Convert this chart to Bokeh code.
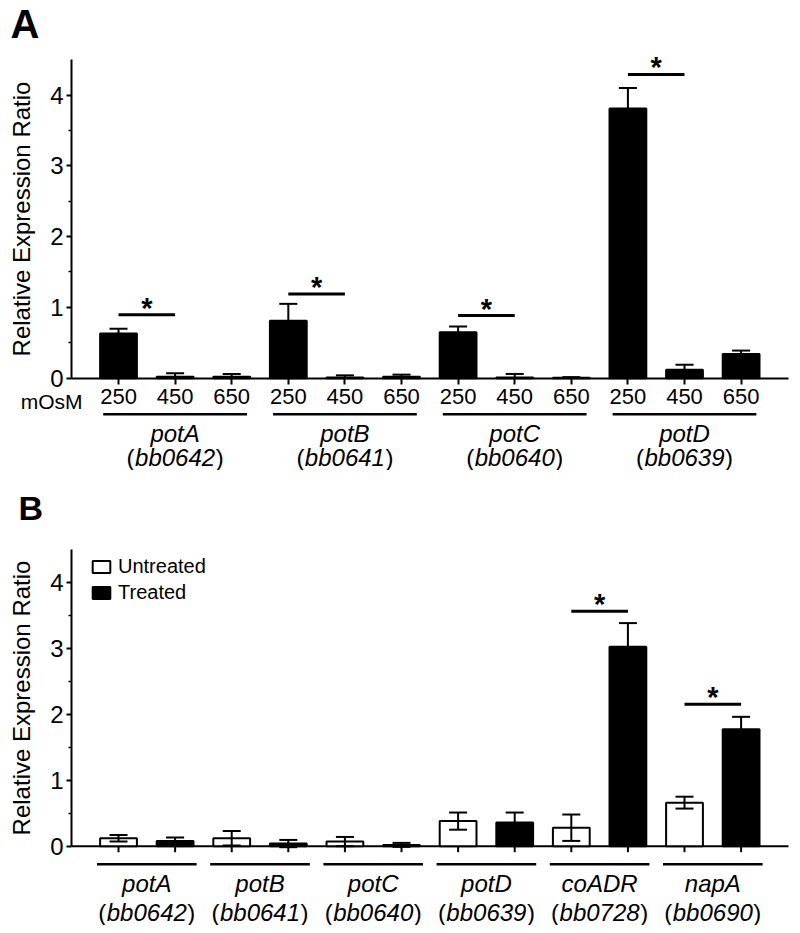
from bokeh.plotting import figure
from bokeh.models import (Range1d, FixedTicker, Whisker, TeeHead, ColumnDataSource,
                          Legend, LegendItem)
from bokeh.layouts import column
from bokeh.embed import file_html
from bokeh.resources import INLINE
from bokeh.core.properties import value

FONT = "Liberation Sans"

# ---------------- Panel A data ----------------
genes_a = ["potA", "potB", "potC", "potD"]
loci_a = ["bb0642", "bb0641", "bb0640", "bb0639"]
osmolarity = ["250", "450", "650"]
ratio_a = [0.63, 0.02, 0.02, 0.81, 0.01, 0.02, 0.65, 0.01, 0.005, 3.81, 0.12, 0.34]
err_a = [0.07, 0.05, 0.04, 0.24, 0.03, 0.03, 0.08, 0.05, 0.01, 0.29, 0.07, 0.05]
sig_a = [0.895, 1.19, 0.885, 4.29]          # significance bar heights (250 vs 450)

# ---------------- Panel B data ----------------
genes_b = ["potA", "potB", "potC", "potD", "coADR", "napA"]
loci_b = ["bb0642", "bb0641", "bb0640", "bb0639", "bb0728", "bb0690"]
conditions = ["Untreated", "Treated"]
untreated_b = [0.12, 0.12, 0.07, 0.38, 0.28, 0.66]
untreated_err_b = [0.05, 0.11, 0.07, 0.13, 0.20, 0.09]
treated_b = [0.08, 0.04, 0.02, 0.36, 3.02, 1.77]
treated_err_b = [0.05, 0.055, 0.03, 0.15, 0.36, 0.19]
sig_genes_b = ["coADR", "napA"]
sig_b = [3.56, 2.15]                         # significance bar heights (U vs T)

y_ticks = [0, 1, 2, 3, 4]
y_minor = [0.5, 1.5, 2.5, 3.5]
y_max = 4.5
y_label = "Relative Expression Ratio"
osm_label = "mOsM"

# ---------------- layout (screen geometry) ----------------
W = 792
X_START, X_END = -2.085, 11.908      # whole figure width is the plot frame
AXIS_X = -0.83                       # where the y axis sits
AXIS_X_END = 11.837                  # right end of the x axis line
BAR_W = 0.65


def base_fig(height, y0, y1):
    p = figure(width=W, height=height, output_backend="svg", toolbar_location=None,
               x_range=Range1d(X_START, X_END), y_range=Range1d(y0, y1),
               min_border=0, min_border_left=0, min_border_right=0,
               min_border_top=0, min_border_bottom=0)
    p.outline_line_color = None
    p.grid.visible = False
    p.background_fill_color = "white"
    p.border_fill_color = "white"
    ya = p.yaxis[0]
    ya.fixed_location = AXIS_X
    ya.ticker = FixedTicker(ticks=y_ticks, minor_ticks=y_minor)
    ya.bounds = (0, y_max)
    ya.axis_line_width = 2
    ya.axis_line_color = "black"
    ya.major_tick_line_width = 2
    ya.major_tick_line_color = "black"
    ya.minor_tick_line_color = "black"
    ya.minor_tick_line_width = 1.5
    ya.major_tick_in = 0
    ya.major_tick_out = 5
    ya.minor_tick_in = 0
    ya.minor_tick_out = 3
    ya.major_label_standoff = 3
    ya.major_label_text_font = FONT
    ya.major_label_text_font_size = "24px"
    ya.major_label_text_color = "black"
    ya.axis_label = y_label
    ya.axis_label_text_font = FONT
    ya.axis_label_text_font_size = "24px"
    ya.axis_label_text_font_style = "normal"
    ya.axis_label_text_color = "black"
    ya.axis_label_standoff = 12
    return p


def px_units(p, px):
    return px * (p.y_range.end - p.y_range.start) / p.height


def txt(p, x, y, text, fs, dy=0, dx=0, style="normal", align="center",
        baseline="middle"):
    p.text(x=x, y=y, text=text, x_offset=dx, y_offset=dy,
           text_font=value(FONT), text_font_size=value(f"{fs}px"),
           text_font_style=style, text_align=align, text_baseline=baseline,
           text_color="black")


def gene_labels(p, centers, genes, loci, d_gene, d_locus, fs):
    zeros = [0] * len(centers)
    txt(p, centers, zeros, genes, fs, dy=d_gene, style="italic")
    txt(p, centers, zeros, loci, fs, dy=d_locus, style="italic")
    half = [len(s) * 0.556 * fs / 2 + 0.5 for s in loci]
    txt(p, centers, zeros, ["("] * len(centers), fs, dy=d_locus,
        dx=[-h for h in half], align="right")
    txt(p, centers, zeros, [")"] * len(centers), fs, dy=d_locus, dx=half, align="left")


def sig_marks(p, x0, x1, ys):
    p.segment(x0=x0, y0=ys, x1=x1, y1=ys, line_color="black", line_width=3)
    txt(p, [(a + b) / 2 for a, b in zip(x0, x1)], ys, ["*"] * len(ys), 29, dy=-7,
        style="bold", baseline="alphabetic")


def underlines(p, x0, x1, px):
    u = px_units(p, px)
    p.segment(x0=x0, x1=x1, y0=[-u] * len(x0), y1=[-u] * len(x0),
              line_color="black", line_width=2.5)


# ================= Panel A =================
pa = base_fig(470, -1.304, 5.335)
xa_pos = [3 * g + k for g in range(len(genes_a)) for k in range(len(osmolarity))]

xa = pa.xaxis[0]
xa.fixed_location = 0
xa.bounds = (AXIS_X, AXIS_X_END)
xa.ticker = FixedTicker(ticks=xa_pos, minor_ticks=[])
xa.major_label_overrides = {i: osmolarity[i % 3] for i in xa_pos}
xa.axis_line_width = 2
xa.axis_line_color = "black"
xa.major_tick_line_width = 2
xa.major_tick_line_color = "black"
xa.major_tick_in = 0
xa.major_tick_out = 6
xa.major_label_standoff = 5
xa.major_label_text_font = FONT
xa.major_label_text_font_size = "22px"
xa.major_label_text_color = "black"

src_a = ColumnDataSource(dict(x=xa_pos, top=ratio_a,
                              upper=[v + e for v, e in zip(ratio_a, err_a)]))
pa.vbar(x="x", top="top", bottom=0, width=BAR_W, source=src_a,
        fill_color="black", line_color="black", line_width=2)
pa.add_layout(Whisker(source=src_a, base="x", lower="top", upper="upper",
                      dimension="height", level="annotation", line_width=2,
                      line_color="black",
                      upper_head=TeeHead(size=18, line_width=2, line_color="black"),
                      lower_head=None))

sig_marks(pa, [3 * g for g in range(4)], [3 * g + 1 for g in range(4)], sig_a)
underlines(pa, [3 * g - 0.27 for g in range(4)], [3 * g + 2.27 for g in range(4)], 36)
gene_labels(pa, [3 * g + 1 for g in range(len(genes_a))], genes_a, loci_a, 55, 79, 24)
txt(pa, [AXIS_X], [0], [osm_label], 21, dy=23, dx=11, align="right")
txt(pa, [X_START], [pa.y_range.end], ["A"], 40, dy=23, dx=10, style="bold",
    align="left", baseline="alphabetic")

# ================= Panel B =================
pb = base_fig(455, -1.2015, 5.692)
pb.xaxis.visible = False
xu = [2 * g for g in range(len(genes_b))]
xt = [2 * g + 1 for g in range(len(genes_b))]

# x axis line with downward ticks at the bar positions
tick_len = px_units(pb, 6)
pb.segment(x0=[AXIS_X], x1=[AXIS_X_END], y0=[0], y1=[0], line_color="black", line_width=2)
pb.segment(x0=xu + xt, x1=xu + xt, y0=[0] * 12, y1=[-tick_len] * 12,
           line_color="black", line_width=2)

src_u = ColumnDataSource(dict(x=xu, top=untreated_b,
                              lo=[v - e for v, e in zip(untreated_b, untreated_err_b)],
                              hi=[v + e for v, e in zip(untreated_b, untreated_err_b)]))
src_t = ColumnDataSource(dict(x=xt, top=treated_b,
                              lo=[v - e for v, e in zip(treated_b, treated_err_b)],
                              hi=[v + e for v, e in zip(treated_b, treated_err_b)]))
r_u = pb.vbar(x="x", top="top", bottom=0, width=BAR_W, source=src_u,
              fill_color="white", line_color="black", line_width=2)
r_t = pb.vbar(x="x", top="top", bottom=0, width=BAR_W, source=src_t,
              fill_color="black", line_color="black", line_width=2)
for s in (src_u, src_t):
    pb.add_layout(Whisker(source=s, base="x", lower="lo", upper="hi",
                          dimension="height", level="annotation", line_width=2,
                          line_color="black",
                          upper_head=TeeHead(size=18, line_width=2, line_color="black"),
                          lower_head=TeeHead(size=18, line_width=2, line_color="black")))

sig_idx = [genes_b.index(g) for g in sig_genes_b]
sig_marks(pb, [2 * i for i in sig_idx], [2 * i + 1 for i in sig_idx], sig_b)

centers_b = [2 * g + 0.5 for g in range(len(genes_b))]
underlines(pb, [c - 0.88 for c in centers_b], [c + 0.88 for c in centers_b], 18)
gene_labels(pb, centers_b, genes_b, loci_b, 37, 66, 24)

legend = Legend(items=[LegendItem(label=conditions[0], renderers=[r_u]),
                       LegendItem(label=conditions[1], renderers=[r_t])],
                location=(90, 321), glyph_width=22, glyph_height=15,
                label_standoff=6, spacing=3, padding=0, margin=0,
                label_text_font=FONT, label_text_font_size="20px",
                label_text_color="black", label_height=20,
                border_line_alpha=0, background_fill_alpha=0)
pb.add_layout(legend)
txt(pb, [X_START], [pb.y_range.end], ["B"], 34, dy=37, dx=18, style="bold",
    align="left", baseline="alphabetic")

layout = column(pa, pb, spacing=0)
open("out.html", "w").write(file_html(layout, INLINE))
